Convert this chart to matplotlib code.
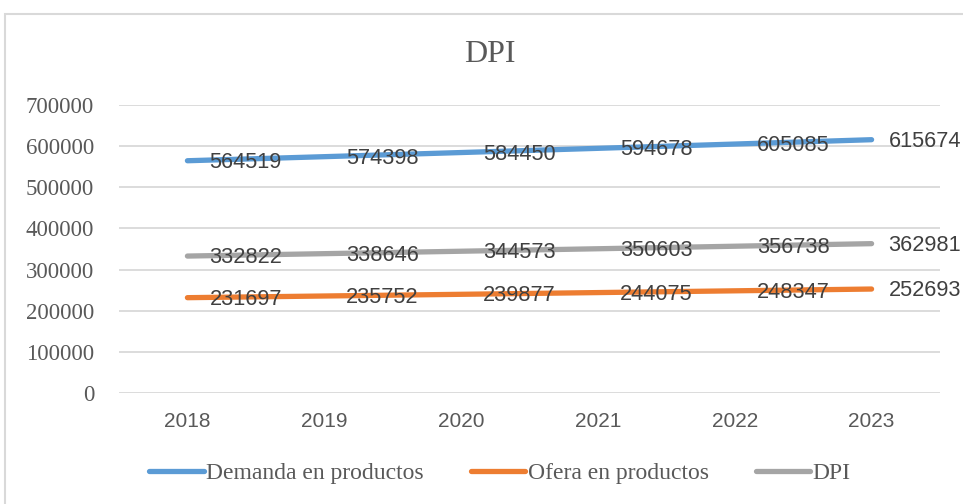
import matplotlib
matplotlib.use("Agg")
import matplotlib.pyplot as plt
from matplotlib.patches import Rectangle

years = ["2018", "2019", "2020", "2021", "2022", "2023"]
demanda = [564519, 574398, 584450, 594678, 605085, 615674]
oferta = [231697, 235752, 239877, 244075, 248347, 252693]
dpi_vals = [332822, 338646, 344573, 350603, 356738, 362981]
series_names = ["Demanda en productos", "Ofera en productos", "DPI"]
colors = ["#5B9BD5", "#ED7D31", "#A5A5A5"]
yticks = [0, 100000, 200000, 300000, 400000, 500000, 600000, 700000]

W, H = 963, 504
fig = plt.figure(figsize=(W / 100, H / 100), dpi=100)

# chart border
fig.patches.append(Rectangle((5 / W, -0.05), 1.1, 1 - 14 / H + 0.05,
                             transform=fig.transFigure, fill=False,
                             edgecolor="#D9D9D9", linewidth=1.5))

ax = fig.add_axes([119 / W, 1 - 393 / H, (940 - 119) / W, (393 - 105) / H])
x = list(range(len(years)))
for vals, name, c in zip([demanda, oferta, dpi_vals], series_names, colors):
    ax.plot(x, vals, color=c, linewidth=3.8, solid_capstyle="round", label=name, zorder=3)
    for xi, v in zip(x, vals):
        dx = 17 if xi == len(years) - 1 else 22
        ax.annotate(str(v), (xi, v), xytext=(dx, -7), textcoords="offset pixels",
                    ha="left", va="baseline", fontsize=15.7, color="#404040",
                    family="Liberation Sans", zorder=4, annotation_clip=False)

ax.set_xlim(-0.5, len(years) - 0.5)
ax.set_ylim(0, 700000)
ax.set_yticks(yticks)
ax.set_yticklabels([str(t) for t in yticks], family="Liberation Serif",
                   fontsize=16.5, color="#595959")
ax.set_xticks(x)
ax.set_xticklabels(years, family="Liberation Sans", fontsize=15, color="#595959")
ax.tick_params(axis="both", length=0)
ax.tick_params(axis="y", pad=18)
ax.tick_params(axis="x", pad=14)
ax.grid(axis="y", color="#D9D9D9", linewidth=1.3)
ax.set_axisbelow(True)
for s in ax.spines.values():
    s.set_visible(False)

fig.text(490 / W, 1 - 55 / H, "DPI", ha="center", va="center",
         family="Liberation Serif", fontsize=23, color="#595959")

leg = fig.legend(loc="center", bbox_to_anchor=(500 / W, 1 - 473 / H), ncol=3,
                 frameon=False, prop={"family": "Liberation Serif", "size": 17},
                 handlelength=2.3, handletextpad=0.1, columnspacing=2.0)
for t in leg.get_texts():
    t.set_color("#595959")

fig.savefig("out.png", dpi=100)
